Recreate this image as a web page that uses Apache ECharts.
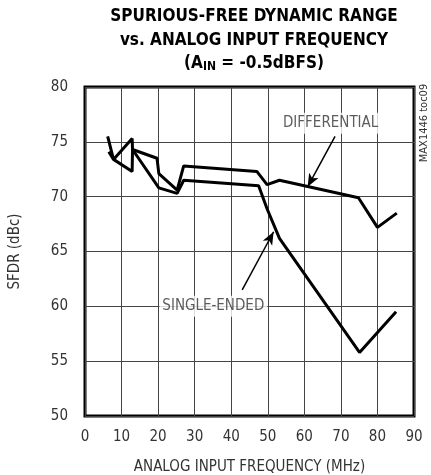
<!DOCTYPE html>
<html><head><meta charset="utf-8">
<script src="https://cdn.jsdelivr.net/npm/echarts@6/dist/echarts.min.js"></script>
<style>html,body{margin:0;padding:0;background:#fff}#c{width:431px;height:475px}</style>
</head><body><div id="c"></div>
<script>
const xTicks = [0,10,20,30,40,50,60,70,80,90];
const yTicks = [50,55,60,65,70,75,80];
const diffX = [6.2, 7.8, 12.9, 13.0, 19.7, 20.2, 25.2, 27.0, 47.0, 49.8, 53.2, 74.8, 80.0, 85.3];
const diffY = [75.5, 73.4, 75.3, 74.3, 73.5, 72.1, 70.6, 72.8, 72.3, 71.1, 71.5, 69.9, 67.2, 68.5];
const seX = [6.5, 7.8, 12.9, 13.0, 20.2, 25.2, 27.0, 47.5, 49.8, 53.2, 75.1, 85.1];
const seY = [74.1, 73.4, 72.3, 74.3, 70.8, 70.3, 71.5, 71.0, 68.9, 66.2, 55.8, 59.5];
const labels = ['DIFFERENTIAL', 'SINGLE-ENDED'];
const labelPos = [[67.2, 76.7], [35.1, 60.0]];
const arrows = [[[68.4, 75.5], [60.9, 70.9]], [[43.0, 61.5], [51.6, 66.8]]];

const F = "'Liberation Sans Narrow','DejaVu Sans Condensed',sans-serif";
const chart = echarts.init(document.getElementById('c'));
const zip = (a, b) => a.map((v, i) => [v, b[i]]);
chart.setOption({
  animation: false,
  title: {
    left: 249, top: 0, textAlign: 'center',
    text: '{a|SPURIOUS-FREE DYNAMIC RANGE}\n{a|vs. ANALOG INPUT FREQUENCY}\n{a|(A}{s|IN}{a| = -0.5dBFS)}',
    textStyle: {
      rich: {
        a: {fontFamily: F, fontWeight: 'bold', fontSize: 17, color: '#000', lineHeight: 23.5},
        s: {fontFamily: F, fontWeight: 'bold', fontSize: 12, color: '#000', lineHeight: 23.5, padding: [7, 0, 0, 0]}
      }
    }
  },
  grid: {left: 85, right: 17, top: 87, bottom: 59, show: true, borderColor: '#000', borderWidth: 3,
    backgroundColor: 'transparent', containLabel: false, outerBoundsMode: 'none'},
  xAxis: {
    type: 'value', min: 0, max: 90, interval: 10,
    name: 'ANALOG INPUT FREQUENCY (MHz)', nameLocation: 'middle', nameGap: 44,
    nameTextStyle: {fontFamily: F, fontSize: 15, color: '#333'},
    axisLine: {show: false}, axisTick: {show: false},
    axisLabel: {fontFamily: F, fontSize: 15, color: '#333', margin: 14,
      formatter: v => xTicks.includes(v) ? String(v) : ''},
    splitLine: {show: true, lineStyle: {color: '#444', width: 1}}
  },
  yAxis: {
    type: 'value', min: 50, max: 80, interval: 5,
    name: 'SFDR (dBc)', nameLocation: 'middle', nameGap: 62,
    nameTextStyle: {fontFamily: F, fontSize: 15, color: '#333'},
    axisLine: {show: false}, axisTick: {show: false},
    axisLabel: {fontFamily: F, fontSize: 15, color: '#333', margin: 17,
      formatter: v => yTicks.includes(v) ? String(v) : ''},
    splitLine: {show: true, lineStyle: {color: '#444', width: 1}}
  },
  graphic: [{
    type: 'text', x: 424, y: 123, rotation: Math.PI / 2,
    style: {text: 'MAX1446 toc09', font: "11px " + F, fill: '#333', align: 'center', verticalAlign: 'middle'}
  }],
  series: [
    {type: 'line', data: zip(diffX, diffY), symbol: 'none', lineStyle: {color: '#000', width: 3}, z: 3},
    {type: 'line', data: zip(seX, seY), symbol: 'none', lineStyle: {color: '#000', width: 3}, z: 3},
    {
      type: 'scatter', symbolSize: 0, z: 4,
      data: labelPos.map((p, i) => ({value: p, name: labels[i]})),
      label: {show: true, position: 'inside', formatter: p => p.name, fontFamily: F, fontSize: 15, color: '#333',
        backgroundColor: '#fff', padding: [3, 3]},
      markLine: {
        silent: true, symbol: ['none', 'arrow'], symbolSize: [8, 13],
        lineStyle: {color: '#000', width: 1.5, type: 'solid'},
        label: {show: false},
        data: arrows.map(a => [{coord: a[0]}, {coord: a[1]}])
      }
    }
  ]
});
</script></body></html>
